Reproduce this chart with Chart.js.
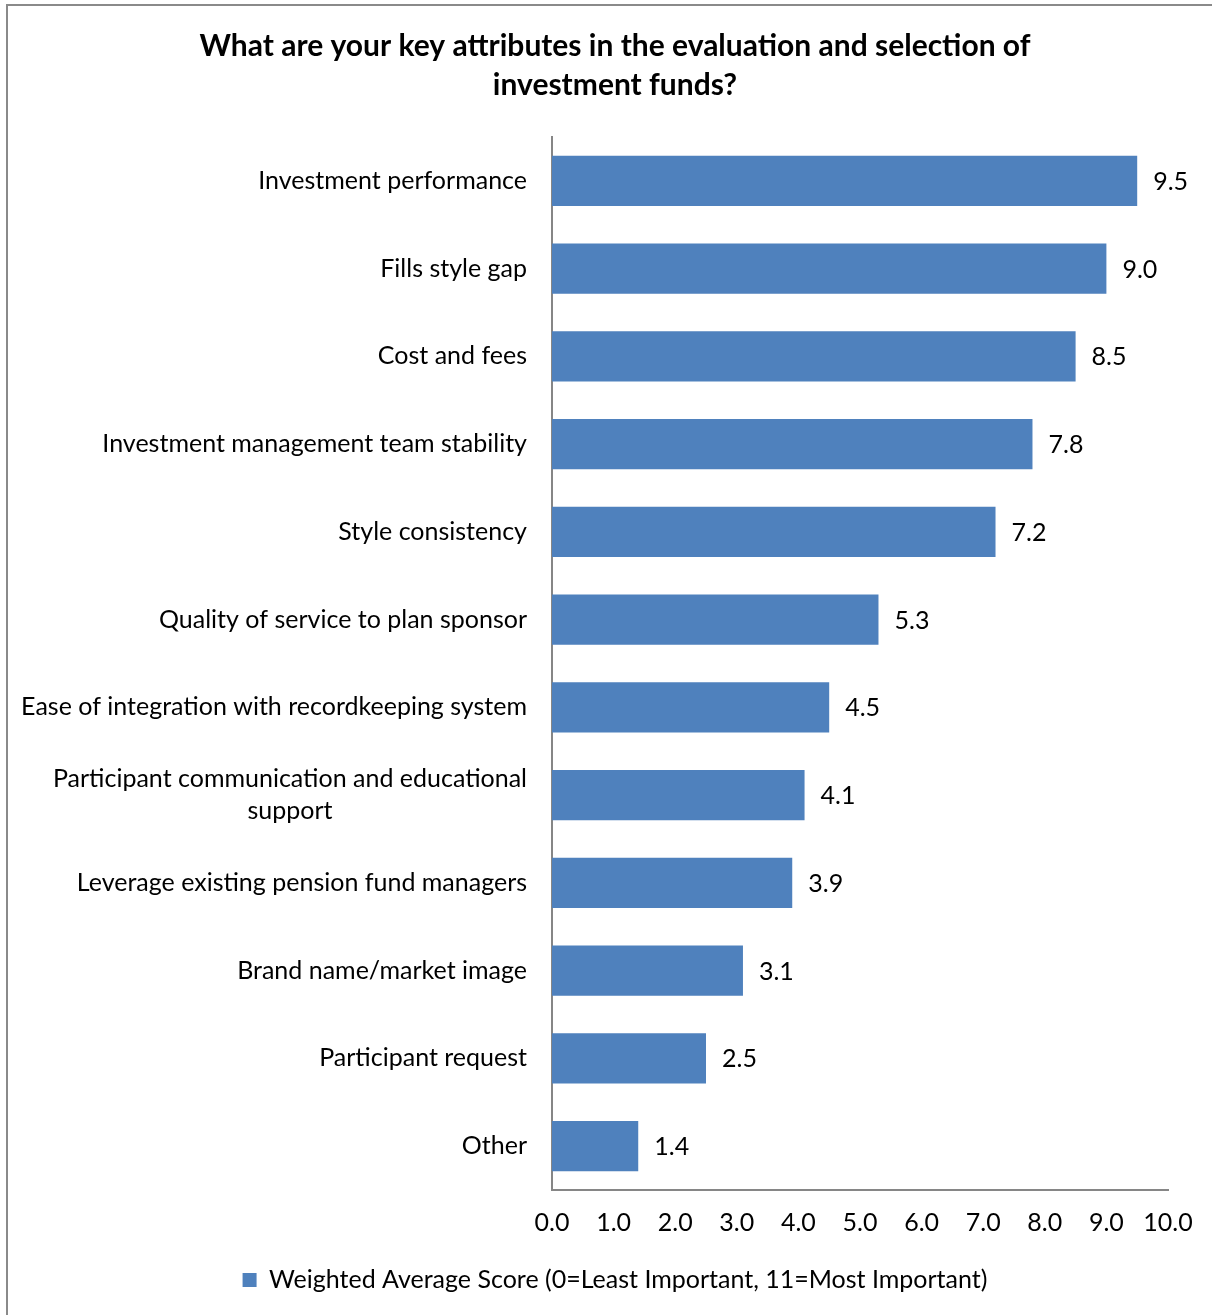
<!DOCTYPE html>
<html>
<head>
<meta charset="utf-8">
<script src="https://cdn.jsdelivr.net/npm/chart.js@4.4.1/dist/chart.umd.min.js"></script>
<style>
    html, body { margin: 0; padding: 0; background: #fff; overflow: hidden; }
    #frame { position: absolute; left: 6px; top: 4px; width: 1300px; height: 1400px; border: 2px solid #8a8a8a; box-sizing: border-box; }
    #wrap { position: absolute; left: 0; top: 0; width: 1232px; height: 1315px; }
</style>
</head>
<body>
<div id="frame"></div>
<div id="wrap"><canvas id="chart" width="1232" height="1315"></canvas></div>
<script>
const titleLines = ['What are your key attributes in the evaluation and selection of', 'investment funds?'];

const categories = [
    'Investment performance',
    'Fills style gap',
    'Cost and fees',
    'Investment management team stability',
    'Style consistency',
    'Quality of service to plan sponsor',
    'Ease of integration with recordkeeping system',
    ['Participant communication and educational', 'support'],
    'Leverage existing pension fund managers',
    'Brand name/market image',
    'Participant request',
    'Other'
];

const scores = [9.5, 9.0, 8.5, 7.8, 7.2, 5.3, 4.5, 4.1, 3.9, 3.1, 2.5, 1.4];

const seriesName = 'Weighted Average Score (0=Least Important, 11=Most Important)';

const axisMin = 0;
const axisMax = 10;
const axisStep = 1;

const FONT = 'Lato';
const FONT_SIZE = 25;
const barColor = '#4F81BD';
const axisColor = '#868686';

// draws category labels (multi-line centred like Excel) and value labels
const labelPlugin = {
    id: 'labelPlugin',
    afterDraw(chart) {
        const ctx = chart.ctx;
        const yScale = chart.scales.y;
        ctx.save();
        ctx.font = FONT_SIZE + 'px ' + FONT;
        ctx.fillStyle = '#000';
        ctx.textBaseline = 'middle';

        ctx.textAlign = 'center';
        categories.forEach((label, i) => {
            const lines = [].concat(label);
            const w = Math.max(...lines.map(l => ctx.measureText(l).width));
            const cx = yScale.right - 25 - w / 2;
            const cy = yScale.getPixelForTick(i);
            lines.forEach((l, j) => {
                ctx.fillText(l, cx, cy + (j - (lines.length - 1) / 2) * 32);
            });
        });

        ctx.textAlign = 'left';
        const meta = chart.getDatasetMeta(0);
        meta.data.forEach((bar, i) => {
            ctx.fillText(scores[i].toFixed(1), bar.x + 16, bar.y + 1);
        });
        ctx.restore();
    }
};

function initChart() {
    Chart.defaults.font.family = FONT;
    Chart.defaults.color = '#000';

    const ctx = document.getElementById('chart').getContext('2d');
    new Chart(ctx, {
        type: 'bar',
        data: {
            labels: categories,
            datasets: [{
                label: seriesName,
                data: scores,
                backgroundColor: barColor,
                borderWidth: 0,
                barPercentage: 0.57,
                categoryPercentage: 1
            }]
        },
        options: {
            indexAxis: 'y',
            responsive: false,
            animation: false,
            devicePixelRatio: 1,
            layout: {
                // left padding centres title/legend like the original; y axis width makes up the rest
                padding: { left: 62, right: 64, top: 0, bottom: 12.5 }
            },
            plugins: {
                title: {
                    display: true,
                    text: titleLines,
                    font: { size: 30, weight: 'bold', lineHeight: 1.3 },
                    color: '#000',
                    padding: { top: 26.5, bottom: 32.5 }
                },
                legend: {
                    position: 'bottom',
                    labels: {
                        font: { size: FONT_SIZE },
                        boxWidth: 14,
                        boxHeight: 14,
                        padding: 10
                    }
                },
                tooltip: { enabled: false }
            },
            scales: {
                x: {
                    min: axisMin,
                    max: axisMax,
                    grid: { display: false, drawTicks: false },
                    border: { display: true, color: axisColor, width: 2 },
                    ticks: {
                        stepSize: axisStep,
                        padding: 18,
                        font: { size: FONT_SIZE },
                        callback: v => v.toFixed(1)
                    },
                    afterFit: scale => { scale.height = 67.5; }
                },
                y: {
                    grid: { display: false, drawTicks: false },
                    border: { display: true, color: axisColor, width: 2 },
                    ticks: { display: false },
                    afterFit: scale => { scale.width = 552 - 62; }
                }
            }
        },
        plugins: [labelPlugin]
    });
}

document.fonts.load(FONT_SIZE + 'px ' + FONT).then(initChart, initChart);
</script>
</body>
</html>
